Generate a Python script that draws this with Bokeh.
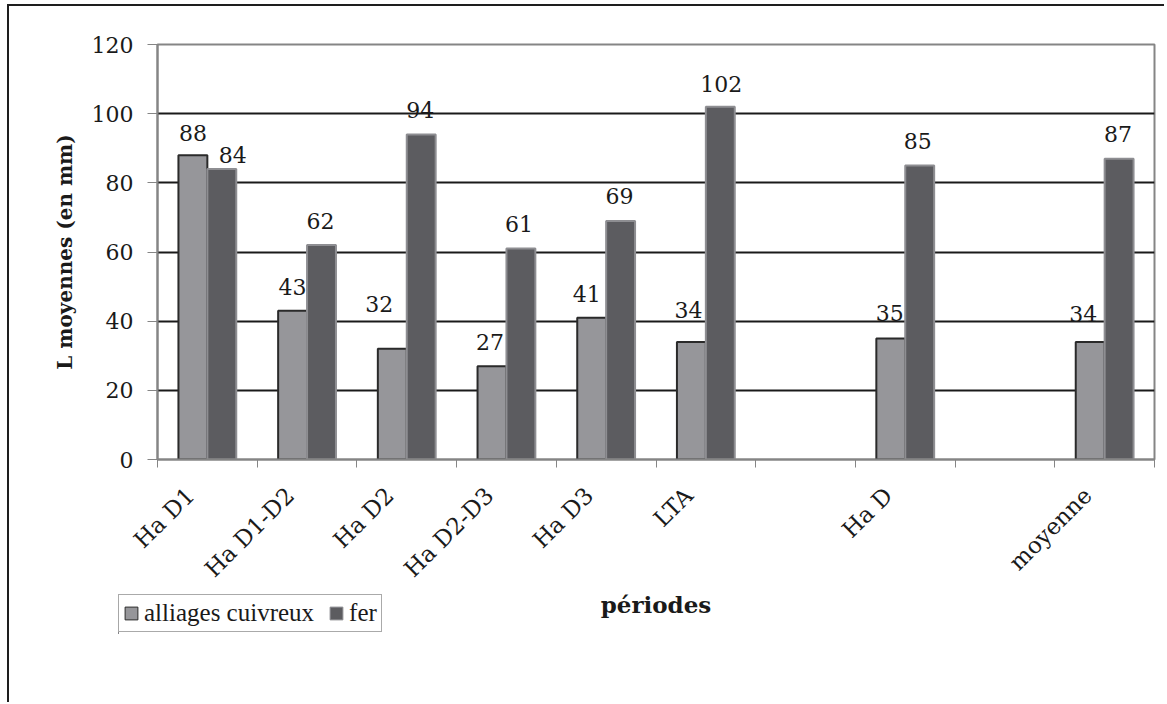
import math
from bokeh.plotting import figure
from bokeh.layouts import column
from bokeh.models import Range1d, FixedTicker, ColumnDataSource, Legend, LegendItem
from bokeh.core.properties import value
from bokeh.embed import file_html
from bokeh.resources import INLINE

# ---------------- data ----------------
categories = ["Ha D1", "Ha D1-D2", "Ha D2", "Ha D2-D3", "Ha D3", "LTA", "", "Ha D", "", "moyenne"]
cuivreux = [88, 43, 32, 27, 41, 34, None, 35, None, 34]
fer = [84, 62, 94, 61, 69, 102, None, 85, None, 87]
series_names = ["alliages cuivreux", "fer"]
y_ticks = [0, 20, 40, 60, 80, 100, 120]
y_title = "L moyennes (en mm)"
x_title = "périodes"

# label nudges in pixels (style only)
cu_dx = [0, 0, -13, -2, -5, -3, 0, -1, 0, -7]
cu_dy = [-22, -24, -45, -24, -24, -32, 0, -25, 0, -28]
fe_dx = [11, -1, -1, -2, -1, 1, 0, -2, 0, -1]
fe_dy = [-14, -24, -24, -25, -25, -23, 0, -25, 0, -25]

# ---------------- style ----------------
SERIF = "DejaVu Serif"
LIGHT = "#96969a"
DARK = "#5c5c60"
LIGHT_EDGE = "#2a2a2a"
DARK_EDGE = "#8e8e92"
BAR_W = 0.29
LABEL_SHIFT = 0.17
BORDER_L, BORDER_R = 148, 10
n = len(categories)


def make_source(vals, shift, dxs, dys):
    d = dict(x=[], top=[], label=[], dx=[], dy=[])
    for i, v in enumerate(vals):
        if v is None:
            continue
        d["x"].append(i + 0.5 + shift)
        d["top"].append(v)
        d["label"].append(str(v))
        d["dx"].append(dxs[i])
        d["dy"].append(dys[i])
    return ColumnDataSource(d)


src_cu = make_source(cuivreux, -BAR_W / 2, cu_dx, cu_dy)
src_fe = make_source(fer, BAR_W / 2, fe_dx, fe_dy)

p = figure(width=1155, height=696, output_backend="svg", toolbar_location=None,
           x_range=Range1d(0, n), y_range=Range1d(0, 120))
p.min_border_left = BORDER_L
p.min_border_right = BORDER_R
p.min_border_top = 38
p.min_border_bottom = 243
p.background_fill_color = "white"
p.border_fill_color = "white"
p.outline_line_color = "#858585"
p.outline_line_width = 2

# grid
p.xgrid.grid_line_color = None
p.ygrid.ticker = FixedTicker(ticks=y_ticks[1:-1])
p.ygrid.grid_line_color = "#1a1a1a"
p.ygrid.grid_line_width = 2

# bars
r_cu = p.vbar(x="x", top="top", width=BAR_W, bottom=0, source=src_cu,
              fill_color=LIGHT, line_color=LIGHT_EDGE, line_width=2)
r_fe = p.vbar(x="x", top="top", width=BAR_W, bottom=0, source=src_fe,
              fill_color=DARK, line_color=DARK_EDGE, line_width=2)

# value labels
for src in (src_cu, src_fe):
    p.text(x="x", y="top", text="label", source=src, x_offset="dx", y_offset="dy",
           text_align="center", text_baseline="middle", text_color="#1a1a1a",
           text_font=value(SERIF), text_font_size="22px")

# y axis
ya = p.yaxis[0]
ya.ticker = FixedTicker(ticks=y_ticks)
ya.axis_line_color = "#858585"
ya.axis_line_width = 2
ya.major_tick_line_color = "#858585"
ya.major_tick_line_width = 1
ya.major_tick_out = 10
ya.major_tick_in = 0
ya.minor_tick_line_color = None
ya.major_label_text_font = SERIF
ya.major_label_text_font_size = "22px"
ya.major_label_text_color = "#1a1a1a"
ya.major_label_standoff = 14
ya.axis_label = y_title
ya.axis_label_text_font = SERIF
ya.axis_label_text_font_style = "bold"
ya.axis_label_text_font_size = "20px"
ya.axis_label_text_color = "#1a1a1a"
ya.axis_label_standoff = 12

# x axis
xa = p.xaxis[0]
label_pos = [round(i + 0.5 - LABEL_SHIFT, 2) for i in range(n)]
xa.ticker = FixedTicker(ticks=label_pos, minor_ticks=list(range(n + 1)))
xa.major_label_overrides = {pos: name for pos, name in zip(label_pos, categories)}
xa.major_label_orientation = math.pi / 4
xa.axis_line_color = "#858585"
xa.axis_line_width = 2
xa.major_tick_line_color = None
xa.minor_tick_line_color = "#858585"
xa.minor_tick_out = 8
xa.minor_tick_in = 0
xa.major_label_text_font = SERIF
xa.major_label_text_font_size = "23px"
xa.major_label_text_color = "#1a1a1a"
xa.major_label_standoff = 24
xa.axis_label = x_title
xa.axis_label_text_font = SERIF
xa.axis_label_text_font_style = "bold"
xa.axis_label_text_font_size = "23px"
xa.axis_label_text_color = "#1a1a1a"
xa.axis_label_standoff = -3

# legend in a small companion figure (legends in the plot centre are clipped to the frame);
# its ranges lie beyond the data so that only the legend itself shows
LEG_W, LEG_H = 300, 40
q = figure(width=BORDER_L + LEG_W + BORDER_R, height=LEG_H, output_backend="svg",
           toolbar_location=None, x_axis_type=None, y_axis_type=None,
           x_range=Range1d(n, n + 1), y_range=Range1d(0, 120))
q.min_border_left = BORDER_L
q.min_border_right = BORDER_R
q.min_border_top = 0
q.min_border_bottom = 0
q.outline_line_color = None
q.grid.grid_line_color = None
q.border_fill_color = None
q.background_fill_color = None
l_cu = q.vbar(x="x", top="top", width=BAR_W, bottom=0, source=src_cu,
              fill_color=LIGHT, line_color=LIGHT_EDGE, line_width=1)
l_fe = q.vbar(x="x", top="top", width=BAR_W, bottom=0, source=src_fe,
              fill_color=DARK, line_color=DARK_EDGE, line_width=1)
legend = Legend(items=[LegendItem(label=series_names[0], renderers=[l_cu]),
                       LegendItem(label=series_names[1], renderers=[l_fe])],
                location="top_left", orientation="horizontal")
legend.label_text_font = "Liberation Serif"
legend.label_text_font_size = "25px"
legend.label_text_color = "#1a1a1a"
legend.glyph_width = 16
legend.glyph_height = 16
legend.label_standoff = 5
legend.spacing = 14
legend.padding = 4
legend.margin = 0
legend.border_line_color = "#555555"
legend.border_line_width = 1
legend.background_fill_color = "white"
q.add_layout(legend, "center")
q.styles = {"position": "absolute", "left": "-39px", "top": "588px"}

page = column(p, q)
page.styles = {"position": "relative", "margin-top": "4px", "margin-left": "7px",
               "border-top": "2px solid #1e1e1e", "border-left": "2px solid #1e1e1e"}

open("out.html", "w").write(file_html(page, INLINE))
